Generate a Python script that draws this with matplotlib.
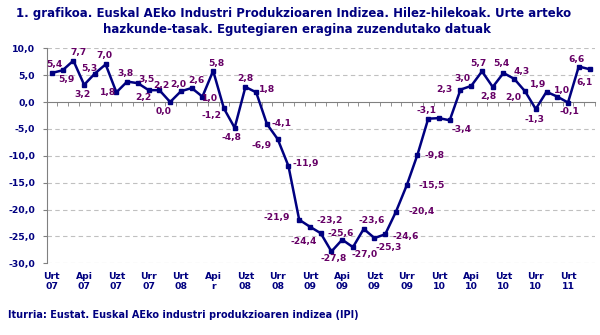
import numpy as np
import matplotlib
matplotlib.use("Agg")
import matplotlib.pyplot as plt

# monthly year-on-year rates, Jan 2007 - Mar 2011
values = [5.4, 5.9, 7.7, 3.2, 5.3, 7.0, 1.8, 3.8, 3.5, 2.2,
          2.2, 0.0, 2.0, 2.6, 1.0, 5.8, -1.2, -4.8, 2.8, 1.8,
          -4.1, -6.9, -11.9, -21.9, -23.2, -24.4, -27.8, -25.6, -27.0, -23.6,
          -25.3, -24.6, -20.4, -15.5, -9.8, -3.1, -3.0, -3.4, 2.3, 3.0,
          5.7, 2.8, 5.4, 4.3, 2.0, -1.3, 1.9, 1.0, -0.1, 6.6,
          6.1]
tick_labels = ["Urt\n07", "Api\n07", "Uzt\n07", "Urr\n07", "Urt\n08", "Api\nr",
               "Uzt\n08", "Urr\n08", "Urt\n09", "Api\n09", "Uzt\n09", "Urr\n09",
               "Urt\n10", "Api\n10", "Uzt\n10", "Urr\n10", "Urt\n11"]
yticks = [10, 5, 0, -5, -10, -15, -20, -25, -30]

# label offsets (pixels, right / down) for each data label; None = no label
label_off = [(3, -8), (4, 9), (5, -8), (-2, 10), (-5, -5), (-1.5, -8.6), (-8, 0),
             (-2, -8.5), (9, -4), (-5, 7), (1.5, -5), (-6.7, 9.5), (-3, -6.5),
             (5, -7.5), (8, 1.5), (3.7, -7.7), (-12, 7.4), (-3, 10), (0, -8),
             (11, -2.5), (15, -1), (-16, 6), (17, -2), (-22, -2), (20, -6),
             (-17, 8), (2, 7), (-2, -6.5), (12, 7.7), (8, -8), (14, 9.5),
             (20, 2), (26, 0), (25, 0), (17, 1), (-1.3, -8), None, (12, 9),
             (-16, 0), (-9, -7), (-4, -7.6), (-4, 10), (-2.5, -9), (7, -7.5),
             (-12, 6), (-1.5, 11), (-8, -7.7), (4.7, -6), (1.6, 9), (-2, -7),
             (-5, 13)]

navy = "#000080"
purple = "#660066"
px = 72 / 100  # pixels -> points

fig = plt.figure(figsize=(6, 3.35), dpi=100)
ax = fig.add_axes([0.0775, 0.214, 0.914, 0.642])

x = np.arange(len(values))
ax.plot(x, values, color=navy, lw=1.8, marker="s", ms=2.8, zorder=3)

for i, v in enumerate(values):
    off = label_off[i]
    if off is None:
        continue
    ax.annotate(f"{v:.1f}".replace(".", ","), (i, v),
                xytext=(off[0] * px, -off[1] * px), textcoords="offset points",
                ha="center", va="center", color=purple, fontsize=6.6,
                fontweight="bold", zorder=4)

ax.set_xlim(-0.5, len(values) - 0.5)
ax.set_ylim(-30, 10)
ax.set_yticks(yticks)
ax.set_yticklabels([f"{t},0" for t in yticks], color=navy, fontsize=6.7,
                   fontweight="bold")
ax.tick_params(axis="y", length=3, color="#808080", pad=5)
for t in yticks:
    if t != 0:
        ax.axhline(t, color="#c0c0c0", lw=0.8, ls=(0, (4, 3)), zorder=1)

for s in ["top", "right"]:
    ax.spines[s].set_visible(False)
ax.spines["left"].set_color("#808080")
ax.spines["bottom"].set_position(("data", 0))
ax.spines["bottom"].set_color("#808080")
ax.set_xticks([])
ax.set_xticks(np.arange(-0.5, len(values), 1), minor=True)
ax.tick_params(axis="x", which="minor", length=3, color="#808080")

for k, lab in enumerate(tick_labels):
    ax.annotate(lab, (3 * k, 0), xycoords=("data", "axes fraction"),
                xytext=(0, -6.3), textcoords="offset points", ha="center",
                va="top", color=navy, fontsize=6.7, fontweight="bold",
                linespacing=1.2)

fig.text(0.49, 1 - 13.3 / 335, "1. grafikoa. Euskal AEko Industri Produkzioaren Indizea. Hilez-hilekoak. Urte arteko",
         ha="center", va="center", color=navy, fontsize=8.5, fontweight="bold")
fig.text(0.495, 1 - 29.5 / 335, "hazkunde-tasak. Egutegiaren eragina zuzendutako datuak",
         ha="center", va="center", color=navy, fontsize=8.5, fontweight="bold")
fig.text(7.5 / 600, 1 - 314.5 / 335, "Iturria: Eustat. Euskal AEko industri produkzioaren indizea (IPI)",
         ha="left", va="center", color=navy, fontsize=7.0, fontweight="bold")

fig.savefig("out.png", dpi=100)
